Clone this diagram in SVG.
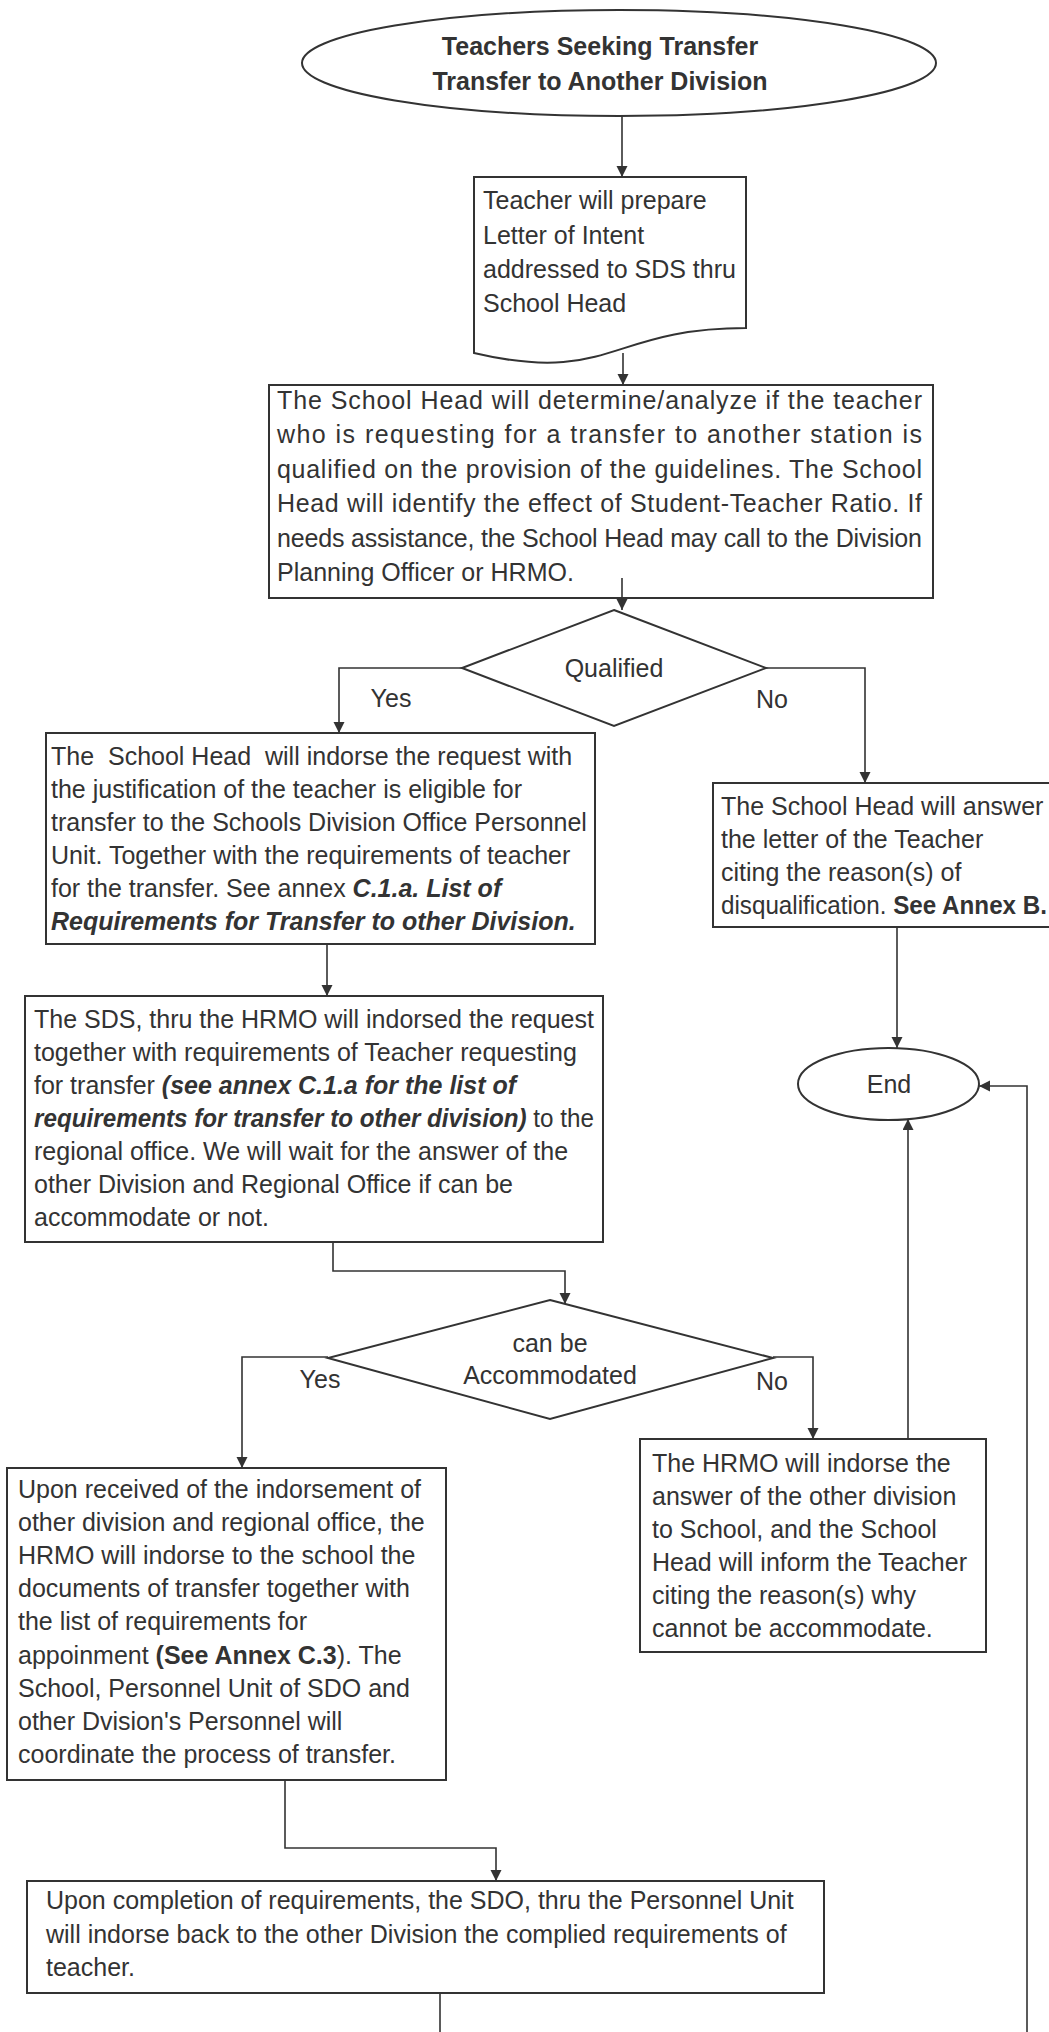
<svg xmlns="http://www.w3.org/2000/svg" width="1049" height="2032" viewBox="0 0 1049 2032">
<style>
.box{fill:#fff;stroke:#333;stroke-width:2}
.con{fill:none;stroke:#333;stroke-width:1.6}
.t{font-family:"Liberation Sans",Arial,sans-serif;font-size:25px;fill:#333;white-space:pre}
.c{text-anchor:middle}
.b{font-weight:bold}
.bi{font-weight:bold;font-style:italic}
</style>
<defs>
<marker id="ah" markerUnits="userSpaceOnUse" markerWidth="12" markerHeight="12" refX="11" refY="5.5" orient="auto">
<path d="M0,0 L11,5.5 L0,11 Z" fill="#333"/>
</marker>
</defs>
<rect width="1049" height="2032" fill="#fff"/>

<g id="start">
<ellipse class="box" cx="619" cy="63" rx="317" ry="53"/>
<text class="t c b" x="600" y="55" font-size="26">Teachers Seeking Transfer</text>
<text class="t c b" x="600" y="90" font-size="26">Transfer to Another Division</text>
</g>

<g id="letter">
<path class="box" d="M474,177 H746 V328 C610,328 610,385 474,353 Z"/>
<text class="t" x="483" y="209">Teacher will prepare</text>
<text class="t" x="483" y="244">Letter of Intent</text>
<text class="t" x="483" y="278">addressed to SDS thru</text>
<text class="t" x="483" y="312">School Head</text>
</g>

<g id="analyze">
<rect class="box" x="269" y="385" width="664" height="213"/>
<text class="t" x="277" y="409" textLength="645" lengthAdjust="spacing">The School Head will determine/analyze if the teacher</text>
<text class="t" x="277" y="443" textLength="645" lengthAdjust="spacing">who is requesting for a transfer to another station is</text>
<text class="t" x="277" y="478" textLength="645" lengthAdjust="spacing">qualified on the provision of the guidelines. The School</text>
<text class="t" x="277" y="512" textLength="645" lengthAdjust="spacing">Head will identify the effect of Student-Teacher Ratio. If</text>
<text class="t" x="277" y="547" textLength="645" lengthAdjust="spacing">needs assistance, the School Head may call to the Division</text>
<text class="t" x="277" y="581">Planning Officer or HRMO.</text>
</g>

<g id="qualified">
<polygon class="box" points="614,610 766,668 614,726 462,668"/>
<text class="t c" x="614" y="677">Qualified</text>
</g>

<g id="endorse">
<rect class="box" x="46" y="733" width="549" height="211"/>
<text class="t" x="51" y="765">The  School Head  will indorse the request with</text>
<text class="t" x="51" y="798">the justification of the teacher is eligible for</text>
<text class="t" x="51" y="831">transfer to the Schools Division Office Personnel</text>
<text class="t" x="51" y="864">Unit. Together with the requirements of teacher</text>
<text class="t" x="51" y="897">for the transfer. See annex <tspan class="bi">C.1.a. List of</tspan></text>
<text class="t bi" x="51" y="930">Requirements for Transfer to other Division.</text>
</g>

<g id="answer">
<rect class="box" x="713" y="783" width="350" height="144"/>
<text class="t" x="721" y="815">The School Head will answer</text>
<text class="t" x="721" y="848">the letter of the Teacher</text>
<text class="t" x="721" y="881">citing the reason(s) of</text>
<text class="t" x="721" y="914" textLength="326" lengthAdjust="spacingAndGlyphs">disqualification. <tspan class="b">See Annex B.</tspan></text>
</g>

<g id="sds">
<rect class="box" x="25" y="996" width="578" height="246"/>
<text class="t" x="34" y="1028">The SDS, thru the HRMO will indorsed the request</text>
<text class="t" x="34" y="1061">together with requirements of Teacher requesting</text>
<text class="t" x="34" y="1094">for transfer <tspan class="bi">(see annex C.1.a for the list of</tspan></text>
<text class="t" x="34" y="1127" textLength="560" lengthAdjust="spacingAndGlyphs"><tspan class="bi">requirements for transfer to other division)</tspan> to the</text>
<text class="t" x="34" y="1160">regional office. We will wait for the answer of the</text>
<text class="t" x="34" y="1193">other Division and Regional Office if can be</text>
<text class="t" x="34" y="1226">accommodate or not.</text>
</g>

<g id="end">
<ellipse class="box" cx="888.5" cy="1084" rx="90.5" ry="36"/>
<text class="t c" x="889" y="1093">End</text>
</g>

<g id="accommodated">
<polygon class="box" points="550,1300 773,1358 550,1419 328,1358"/>
<text class="t c" x="550" y="1352">can be</text>
<text class="t c" x="550" y="1384">Accommodated</text>
</g>

<g id="received">
<rect class="box" x="7" y="1468" width="439" height="312"/>
<text class="t" x="18" y="1498">Upon received of the indorsement of</text>
<text class="t" x="18" y="1531">other division and regional office, the</text>
<text class="t" x="18" y="1564">HRMO will indorse to the school the</text>
<text class="t" x="18" y="1597">documents of transfer together with</text>
<text class="t" x="18" y="1630">the list of requirements for</text>
<text class="t" x="18" y="1664">appoinment <tspan class="b">(See Annex C.3</tspan>). The</text>
<text class="t" x="18" y="1697">School, Personnel Unit of SDO and</text>
<text class="t" x="18" y="1730">other Dvision's Personnel will</text>
<text class="t" x="18" y="1763">coordinate the process of transfer.</text>
</g>

<g id="hrmo">
<rect class="box" x="640" y="1439" width="346" height="213"/>
<text class="t" x="652" y="1472">The HRMO will indorse the</text>
<text class="t" x="652" y="1505">answer of the other division</text>
<text class="t" x="652" y="1538">to School, and the School</text>
<text class="t" x="652" y="1571">Head will inform the Teacher</text>
<text class="t" x="652" y="1604">citing the reason(s) why</text>
<text class="t" x="652" y="1637">cannot be accommodate.</text>
</g>

<g id="complete">
<rect class="box" x="27" y="1881" width="797" height="112"/>
<text class="t" x="46" y="1909">Upon completion of requirements, the SDO, thru the Personnel Unit</text>
<text class="t" x="46" y="1943">will indorse back to the other Division the complied requirements of</text>
<text class="t" x="46" y="1976">teacher.</text>
</g>

<g id="connectors">
<path class="con" d="M622,116 V177" marker-end="url(#ah)"/>
<path class="con" d="M623,353 V385" marker-end="url(#ah)"/>
<path class="con" d="M622,578 V610" marker-end="url(#ah)"/>
<path class="con" d="M462,668 H339 V733" marker-end="url(#ah)"/>
<path class="con" d="M766,668 H865 V783" marker-end="url(#ah)"/>
<path class="con" d="M327,944 V996" marker-end="url(#ah)"/>
<path class="con" d="M897,927 V1048" marker-end="url(#ah)"/>
<path class="con" d="M333,1242 V1271 H565 V1304" marker-end="url(#ah)"/>
<path class="con" d="M328,1357 H242 V1468" marker-end="url(#ah)"/>
<path class="con" d="M773,1357 H813 V1439" marker-end="url(#ah)"/>
<path class="con" d="M908,1439 V1119" marker-end="url(#ah)"/>
<path class="con" d="M285,1780 V1848 H496 V1881" marker-end="url(#ah)"/>
<path class="con" d="M440,1993 V2045 H1027 V1086 H979" marker-end="url(#ah)"/>
<text class="t c" x="391" y="707" font-size="24">Yes</text>
<text class="t c" x="772" y="708" font-size="24">No</text>
<text class="t c" x="320" y="1388" font-size="24">Yes</text>
<text class="t c" x="772" y="1390" font-size="24">No</text>
</g>
</svg>
